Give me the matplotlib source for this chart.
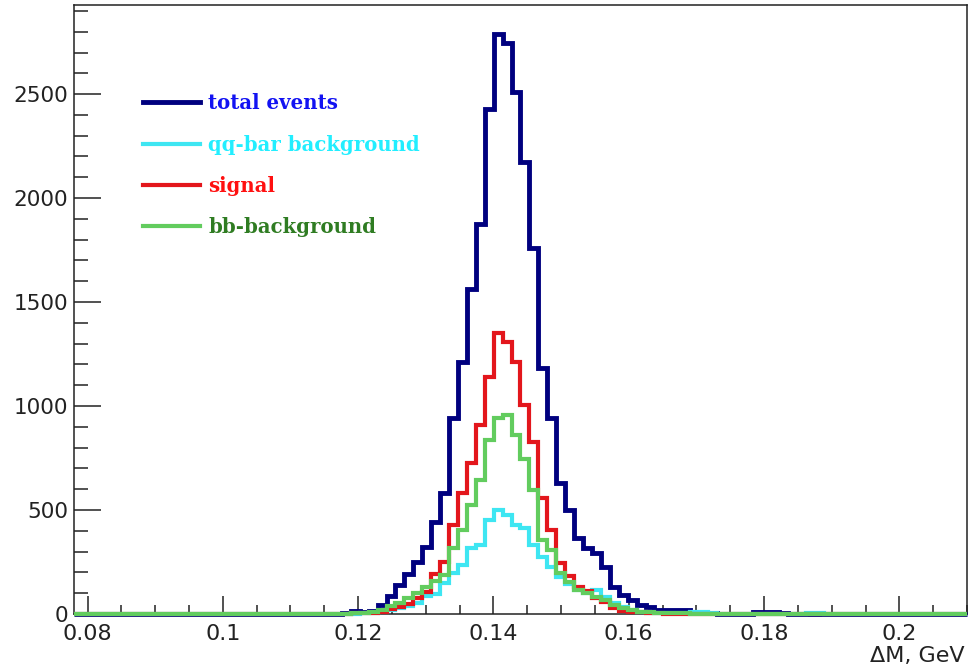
import numpy as np
import matplotlib
matplotlib.use("Agg")
import matplotlib.pyplot as plt

# Histogram binning: 100 bins of Delta M between 0.078 and 0.21 GeV
x_min, x_max, n_bins = 0.078, 0.21, 100
first_bin = 30  # contents below this bin are empty

total_events = [5, 15, 12, 15, 43, 85, 140, 190, 250, 320,
                444, 580, 941, 1213, 1563, 1875, 2426, 2789, 2744, 2511,
                2175, 1758, 1181, 941, 631, 500, 364, 316, 292, 228,
                131, 91, 67, 43, 35, 19, 19, 19, 19, 10,
                5, 3, 0, 0, 0, 0, 8, 10, 10, 5]
qqbar_background = [0, 0, 3, 5, 10, 19, 30, 40, 55, 85,
                    95, 148, 196, 236, 316, 332, 452, 500, 476, 428,
                    412, 332, 276, 228, 179, 145, 115, 99, 115, 83,
                    55, 35, 20, 10, 5, 3, 5, 3, 3, 8,
                    8, 5, 0, 0, 0, 0, 0, 0, 0, 0,
                    0, 0, 5, 5]
signal = [0, 3, 5, 5, 10, 25, 35, 50, 75, 105,
          190, 251, 428, 580, 724, 909, 1141, 1349, 1309, 1213,
          1005, 828, 556, 404, 244, 185, 131, 110, 75, 60,
          30, 15, 10, 8, 5, 3, 2]
bb_background = [2, 5, 5, 8, 20, 40, 55, 75, 100, 130,
                 160, 188, 316, 404, 524, 644, 837, 941, 957, 861,
                 744, 596, 356, 308, 196, 155, 115, 99, 83, 65,
                 45, 30, 20, 12, 8, 5, 5, 3, 3, 2,
                 2]

labels = ["total events", "qq-bar background", "signal", "bb-background"]
line_colors = ["#00007f", "#3ee6f2", "#e3161c", "#62cc5e"]
text_colors = ["#1212f2", "#22eeff", "#ff1010", "#2f7c22"]
line_widths = [3.5, 3.0, 3.0, 3.0]

x_ticks = [0.08, 0.10, 0.12, 0.14, 0.16, 0.18, 0.20]
y_ticks = [0, 500, 1000, 1500, 2000, 2500]


def full_histogram(contents):
    h = np.zeros(n_bins)
    h[first_bin:first_bin + len(contents)] = contents
    return h


edges = np.linspace(x_min, x_max, n_bins + 1)
series = [total_events, qqbar_background, signal, bb_background]

fig = plt.figure(figsize=(9.69, 6.70), dpi=100)
ax = fig.add_axes([74 / 969, 56 / 670, 893 / 969, 609 / 670])

for vals, lab, col, lw in zip(series, labels, line_colors, line_widths):
    ax.stairs(full_histogram(vals), edges, color=col, linewidth=lw,
              label=lab, baseline=0, clip_on=False, zorder=3)

ax.set_xlim(x_min, x_max)
ax.set_ylim(0, 1.05 * max(total_events))

ax.set_xticks(x_ticks)
ax.set_xticklabels([f"{t:g}" for t in x_ticks])
ax.set_xticks(np.arange(0.08, 0.2101, 0.005), minor=True)
ax.set_yticks(y_ticks)
ax.set_yticks(np.arange(0, 2901, 100), minor=True)

ax.tick_params(axis="both", which="both", direction="in", top=False,
               right=False, width=1.1, color="#222222")
ax.tick_params(axis="x", which="major", length=13, pad=7,
               labelsize=16, labelcolor="#222222")
ax.tick_params(axis="x", which="minor", length=6.5)
ax.tick_params(axis="y", which="major", length=19.5, pad=4,
               labelsize=15.5, labelcolor="#222222")
ax.tick_params(axis="y", which="minor", length=10)
for sp in ax.spines.values():
    sp.set_linewidth(1.1)
    sp.set_color("#222222")

ax.set_xlabel("ΔM, GeV", fontsize=16, color="#222222")
ax.xaxis.set_label_coords(0.997, -0.052)
ax.xaxis.label.set_horizontalalignment("right")

leg = ax.legend(loc="upper left", bbox_to_anchor=(0.0773, 0.855),
                frameon=False, handlelength=2.9, handletextpad=0.4,
                labelspacing=1.08, borderpad=0, borderaxespad=0,
                prop={"family": "DejaVu Serif", "weight": "bold",
                      "size": 14.2},
                labelcolor=text_colors)

fig.savefig("out.png", dpi=100)
